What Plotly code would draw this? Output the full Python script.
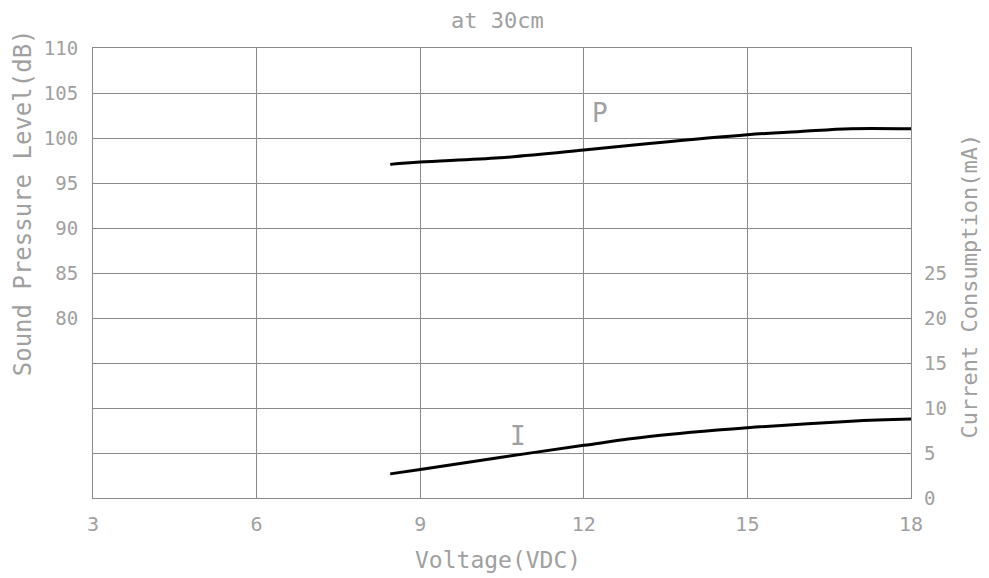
import plotly.graph_objects as go

voltage_p = [8.45, 9.0, 10.46, 12.0, 13.2, 15.0, 15.97, 16.9, 18.0]
spl_db = [97.07, 97.32, 97.8, 98.66, 99.4, 100.37, 100.73, 101.04, 101.02]
voltage_i = [8.45, 9.0, 10.46, 12.0, 13.2, 15.0, 16.9, 18.0]
current_ma = [2.68, 3.17, 4.5, 5.85, 6.83, 7.8, 8.54, 8.78]

x_ticks = [3, 6, 9, 12, 15, 18]
left_grid = [60, 65, 70, 75, 80, 85, 90, 95, 100, 105, 110]
left_labels = ["", "", "", "", "80", "85", "90", "95", "100", "105", "110"]
right_ticks = [0, 5, 10, 15, 20, 25]

TXT = "#a0a0a0"
FONT = "DejaVu Sans Mono"
GRID = "#8a8a8a"

fig = go.Figure()
fig.add_trace(go.Scatter(x=voltage_p, y=spl_db, mode="lines",
                         line=dict(color="black", width=3, shape="spline"),
                         showlegend=False, yaxis="y"))
fig.add_trace(go.Scatter(x=voltage_i, y=current_ma, mode="lines",
                         line=dict(color="black", width=3, shape="spline"),
                         showlegend=False, yaxis="y2"))

fig.update_layout(
    width=989, height=578,
    margin=dict(l=85, r=86, t=40, b=88),
    paper_bgcolor="white", plot_bgcolor="white",
    font=dict(family=FONT, color=TXT, size=18),
    xaxis=dict(range=[3, 18], tickvals=x_ticks, showgrid=True,
               gridcolor=GRID, gridwidth=1, zeroline=False,
               showline=True, linecolor=GRID, mirror=True,
               ticks="", ticklabelstandoff=8,
               tickfont=dict(size=20, color=TXT, family=FONT)),
    yaxis=dict(range=[60, 110], tickvals=left_grid, ticktext=left_labels,
               showgrid=True, gridcolor=GRID, gridwidth=1, zeroline=False,
               showline=True, linecolor=GRID, mirror=True,
               ticks="", ticklabelstandoff=10,
               tickfont=dict(size=19, color=TXT, family=FONT)),
    yaxis2=dict(range=[0, 50], tickvals=right_ticks, overlaying="y",
                side="right", showgrid=False, zeroline=False, showline=False,
                ticks="", ticklabelstandoff=12,
                tickfont=dict(size=19, color=TXT, family=FONT)),
)

fig.add_annotation(text="at 30cm", xref="paper", yref="paper", x=0.4945, y=1.0,
                   xanchor="center", yanchor="middle",
                   yshift=28, showarrow=False, font=dict(size=22, color=TXT))
fig.add_annotation(text="Voltage(VDC)", xref="paper", yref="paper", x=0.4945, y=0,
                   xanchor="center", yanchor="middle",
                   yshift=-62, showarrow=False, font=dict(size=23, color=TXT))
fig.add_annotation(text="Sound Pressure Level(dB)", xref="paper", yref="paper",
                   x=0, xshift=-70, y=0.655, xanchor="center", yanchor="middle",
                   textangle=-90, showarrow=False,
                   font=dict(size=24, color=TXT))
fig.add_annotation(text="Current Consumption(mA)", xref="paper", yref="paper",
                   x=1, xshift=58, y=0.47, xanchor="center", yanchor="middle",
                   textangle=-90, showarrow=False,
                   font=dict(size=22, color=TXT))
fig.add_annotation(text="P", x=12.3, y=102.8, xref="x", yref="y",
                   showarrow=False, font=dict(size=26, color=TXT))
fig.add_annotation(text="I", x=10.8, y=6.9, xref="x", yref="y2",
                   showarrow=False, font=dict(size=26, color=TXT))

fig.write_html("out.html")
